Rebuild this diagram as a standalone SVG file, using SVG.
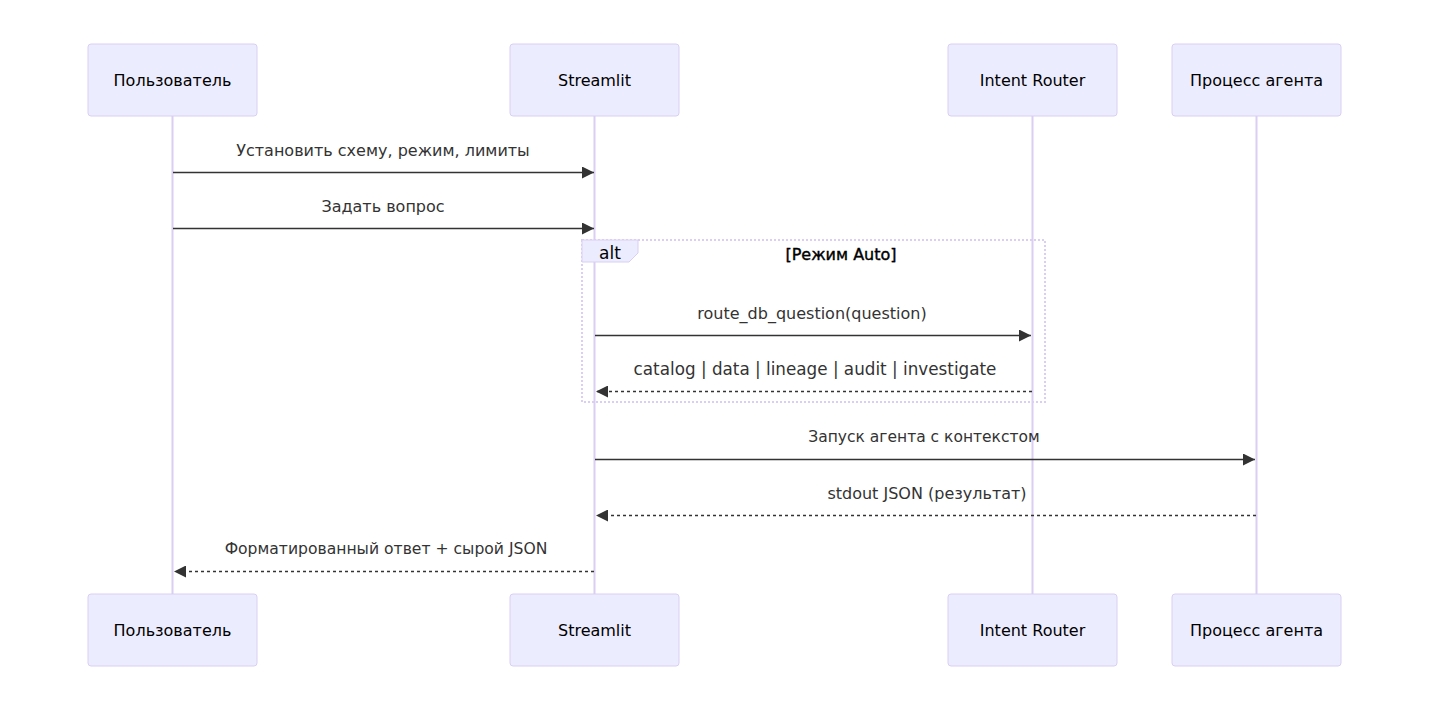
<svg xmlns="http://www.w3.org/2000/svg" width="1429" height="711" viewBox="0 0 1429 711">
<style>
.actor{fill:#ECECFF;stroke:#DACEF3;stroke-width:1}
.life{stroke:#DACEF3;stroke-width:2}
.t{font-family:"DejaVu Sans","Noto Sans",sans-serif;font-size:16px;fill:#333;text-anchor:middle;dominant-baseline:central}
.at{font-family:"DejaVu Sans","Noto Sans",sans-serif;font-size:16px;fill:#000;text-anchor:middle;dominant-baseline:central}
.msg{stroke:#333;stroke-width:1.5;fill:none}
.dash{stroke-dasharray:3,3}
.loop{stroke:#DACEF3;stroke-width:2;stroke-dasharray:2,2;fill:none}
</style>
<defs>
<marker id="ah" viewBox="0 0 12 12" refX="12" refY="6" markerWidth="12" markerHeight="12" markerUnits="userSpaceOnUse" orient="auto">
<path d="M0,0 L12,6 L0,12 z" fill="#333"/>
</marker>
</defs>
<rect width="1429" height="711" fill="#fff"/>
<g id="lifelines">
<line class="life" x1="172.5" y1="116" x2="172.5" y2="594"/>
<line class="life" x1="594.5" y1="116" x2="594.5" y2="594"/>
<line class="life" x1="1032.5" y1="116" x2="1032.5" y2="594"/>
<line class="life" x1="1256.5" y1="116" x2="1256.5" y2="594"/>
</g>
<g id="alt">
<rect class="loop" x="582" y="240" width="463" height="162"/>
<path d="M582,240 L638,240 L638,253 L629,262 L582,262 z" fill="#ECECFF" stroke="#DACEF3" stroke-width="1"/>
<text class="t" x="610" y="253" style="fill:#000;font-size:17px">alt</text>
<text class="t" x="841" y="254" style="fill:#000;stroke:#000;stroke-width:0.4">[Режим Auto]</text>
</g>
<g id="actor-user-top"><rect class="actor" x="88" y="44" width="169" height="72" rx="3"/><text class="at" x="172.5" y="80">Пользователь</text></g>
<g id="actor-streamlit-top"><rect class="actor" x="510" y="44" width="169" height="72" rx="3"/><text class="at" x="594.5" y="80">Streamlit</text></g>
<g id="actor-router-top"><rect class="actor" x="948" y="44" width="169" height="72" rx="3"/><text class="at" x="1032.5" y="80">Intent Router</text></g>
<g id="actor-agent-top"><rect class="actor" x="1172" y="44" width="169" height="72" rx="3"/><text class="at" x="1256.5" y="80">Процесс агента</text></g>
<g id="actor-user-bottom"><rect class="actor" x="88" y="594" width="169" height="72" rx="3"/><text class="at" x="172.5" y="630">Пользователь</text></g>
<g id="actor-streamlit-bottom"><rect class="actor" x="510" y="594" width="169" height="72" rx="3"/><text class="at" x="594.5" y="630">Streamlit</text></g>
<g id="actor-router-bottom"><rect class="actor" x="948" y="594" width="169" height="72" rx="3"/><text class="at" x="1032.5" y="630">Intent Router</text></g>
<g id="actor-agent-bottom"><rect class="actor" x="1172" y="594" width="169" height="72" rx="3"/><text class="at" x="1256.5" y="630">Процесс агента</text></g>
<g id="connectors">
<line class="msg" x1="173" y1="172.5" x2="594" y2="172.5" marker-end="url(#ah)"/>
<text class="t" x="383" y="150">Установить схему, режим, лимиты</text>
<line class="msg" x1="173" y1="228.5" x2="594" y2="228.5" marker-end="url(#ah)"/>
<text class="t" x="383" y="206">Задать вопрос</text>
<line class="msg" x1="595" y1="335.5" x2="1031" y2="335.5" marker-end="url(#ah)"/>
<text class="t" x="812" y="313">route_db_question(question)</text>
<line class="msg dash" x1="1032" y1="391.5" x2="596" y2="391.5" marker-end="url(#ah)"/>
<text class="t" x="815" y="369" style="font-size:16.8px">catalog | data | lineage | audit | investigate</text>
<line class="msg" x1="595" y1="459.5" x2="1255" y2="459.5" marker-end="url(#ah)"/>
<text class="t" x="924" y="437" style="font-size:15.5px">Запуск агента с контекстом</text>
<line class="msg dash" x1="1256" y1="515.5" x2="596" y2="515.5" marker-end="url(#ah)"/>
<text class="t" x="927" y="493">stdout JSON (результат)</text>
<line class="msg dash" x1="594" y1="571.5" x2="174" y2="571.5" marker-end="url(#ah)"/>
<text class="t" x="386" y="549" style="font-size:15.6px">Форматированный ответ + сырой JSON</text>
</g>
</svg>
